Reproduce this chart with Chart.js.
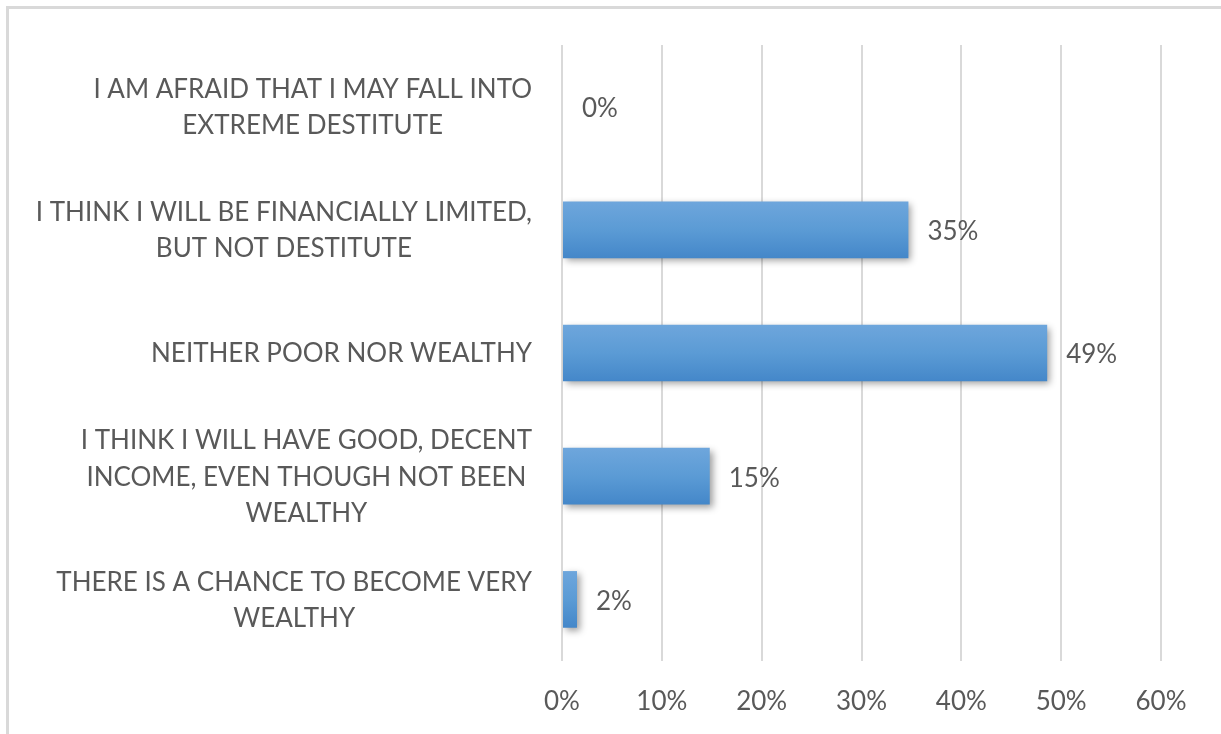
<!DOCTYPE html>
<html>
<head>
<meta charset="utf-8">
<script src="https://cdn.jsdelivr.net/npm/chart.js@4"></script>
<style>
html,body{margin:0;padding:0;background:#fff;}
canvas{display:block;}
</style>
</head>
<body>
<canvas id="c" width="1221" height="734"></canvas>
<script>
const categories = [
  ["I AM AFRAID THAT I MAY FALL INTO", "EXTREME DESTITUTE"],
  ["I THINK I WILL BE FINANCIALLY LIMITED,", "BUT NOT DESTITUTE"],
  ["NEITHER POOR NOR WEALTHY"],
  ["I THINK I WILL HAVE GOOD, DECENT", "INCOME, EVEN THOUGH NOT BEEN", "WEALTHY"],
  ["THERE IS A CHANCE TO BECOME VERY", "WEALTHY"]
];
const values = [0.1, 34.7, 48.6, 14.8, 1.5];
const tickMin = 0, tickMax = 60, tickStep = 10;

const FONT_FAMILY = "Lato, 'Open Sans', sans-serif";
const TEXT_COLOR = "#595959";
const LABEL_SIZE = 26;
const LINE_H = 36.5;
const BAR_PCT = 0.46;

const frame = {
  id: 'frame',
  beforeDraw(chart) {
    const ctx = chart.ctx;
    ctx.save();
    ctx.strokeStyle = '#d9d9d9';
    ctx.lineWidth = 3;
    ctx.strokeRect(7.5, 7.5, chart.width + 20, chart.height + 20);
    ctx.restore();
  }
};

const decor = {
  id: 'decor',
  beforeDatasetsDraw(chart) {
    const ctx = chart.ctx;
    ctx.save();
    ctx.shadowColor = 'rgba(0,0,0,0.38)';
    ctx.shadowBlur = 7;
    ctx.shadowOffsetX = 3;
    ctx.shadowOffsetY = 3;
  },
  afterDatasetsDraw(chart) {
    const ctx = chart.ctx;
    ctx.restore();
    ctx.save();
    ctx.fillStyle = TEXT_COLOR;
    ctx.font = `${LABEL_SIZE}px ${FONT_FAMILY}`;
    ctx.textBaseline = 'middle';
    ctx.textAlign = 'left';
    const meta = chart.getDatasetMeta(0);
    meta.data.forEach((bar, i) => {
      ctx.fillText(Math.round(values[i]) + '%', bar.x + 19, bar.y + 2);
    });
    // category labels: each block centred on itself, right-aligned as a block
    const yScale = chart.scales.y;
    const right = chart.chartArea.left - 30;
    ctx.textAlign = 'center';
    categories.forEach((lines, i) => {
      const cy = yScale.getPixelForValue(i);
      let maxW = 0;
      lines.forEach(l => { maxW = Math.max(maxW, ctx.measureText(l).width); });
      const cx = right - maxW / 2;
      const y0 = cy - (lines.length - 1) * LINE_H / 2 + 1;
      lines.forEach((l, k) => ctx.fillText(l, cx, y0 + k * LINE_H));
    });
    ctx.restore();
  }
};

function barGradient(context) {
  const chart = context.chart;
  const yScale = chart.scales.y;
  if (!chart.chartArea || !yScale) return '#5b9bd5';
  const c = yScale.getPixelForValue(context.dataIndex);
  const half = (yScale.height / categories.length) * BAR_PCT / 2;
  const g = chart.ctx.createLinearGradient(0, c - half, 0, c + half);
  g.addColorStop(0, '#6ea6dc');
  g.addColorStop(0.5, '#5b9bd5');
  g.addColorStop(1, '#4487c9');
  return g;
}

new Chart(document.getElementById('c'), {
  type: 'bar',
  data: {
    labels: categories,
    datasets: [{
      data: values,
      backgroundColor: barGradient,
      borderWidth: 0,
      barPercentage: BAR_PCT,
      categoryPercentage: 1
    }]
  },
  options: {
    indexAxis: 'y',
    responsive: false,
    animation: false,
    devicePixelRatio: 1,
    layout: { padding: { left: 562, right: 60, top: 45, bottom: 0 } },
    plugins: { legend: { display: false }, tooltip: { enabled: false } },
    scales: {
      x: {
        min: tickMin, max: tickMax,
        grid: { color: '#d9d9d9', lineWidth: 2, drawTicks: false },
        border: { display: false },
        ticks: {
          stepSize: tickStep,
          padding: 25,
          color: TEXT_COLOR,
          font: { family: FONT_FAMILY, size: LABEL_SIZE },
          callback: v => v + '%'
        },
        afterFit(scale) { scale.height = 73; }
      },
      y: { display: false }
    }
  },
  plugins: [frame, decor]
});
</script>
</body>
</html>
